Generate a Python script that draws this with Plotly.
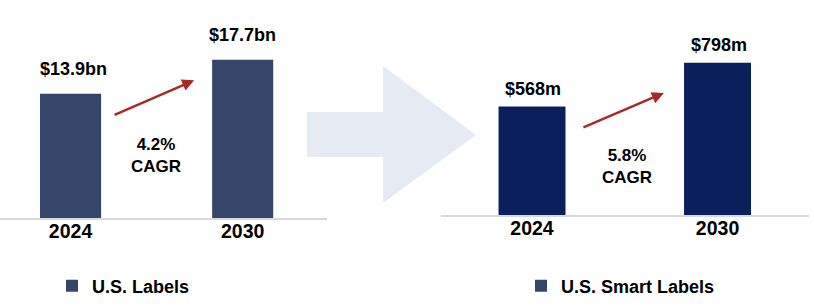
import plotly.graph_objects as go

# ---- data ----
years = ["2024", "2030"]
labels_values = [13.9, 17.7]          # U.S. Labels, $bn
smart_values = [568, 798]             # U.S. Smart Labels, $m
labels_text = ["&#36;13.9bn", "&#36;17.7bn"]
smart_text = ["&#36;568m", "&#36;798m"]
labels_cagr = "4.2%"
smart_cagr = "5.8%"
cagr_word = "CAGR"
series_names = ["U.S. Labels", "U.S. Smart Labels"]

W, H = 814, 307
FONT = "Liberation Sans"
SLATE = "#36466B"
NAVY = "#0B1F5C"
RED = "#A82828"

def px(x):
    return x / W

def py(y):
    return 1 - y / H

fig = go.Figure()

fig.add_trace(go.Bar(x=years, y=labels_values, name=series_names[0],
                     marker=dict(color=SLATE, line=dict(width=0)),
                     width=0.355, xaxis="x", yaxis="y", legend="legend",
                     hoverinfo="skip"))
fig.add_trace(go.Bar(x=years, y=smart_values, name=series_names[1],
                     marker=dict(color=NAVY, line=dict(width=0)),
                     width=0.361, xaxis="x2", yaxis="y2", showlegend=False,
                     hoverinfo="skip"))
fig.add_trace(go.Bar(x=[None], y=[None], name=series_names[1],
                     marker=dict(color=SLATE, line=dict(width=0)),
                     xaxis="x2", yaxis="y2", legend="legend2",
                     hoverinfo="skip"))

bold = dict(family=FONT, color="#000", weight="bold")
annotations = []
for i, (v, t) in enumerate(zip(labels_values, labels_text)):
    annotations.append(dict(x=i, y=v, xref="x", yref="y", text=t,
                            showarrow=False, yanchor="middle", yshift=25,
                            xshift=3 if i == 0 else 0,
                            font=dict(size=18, **bold)))
for i, (v, t) in enumerate(zip(smart_values, smart_text)):
    annotations.append(dict(x=i, y=v, xref="x2", yref="y2", text=t,
                            showarrow=False, yanchor="middle", yshift=18,
                            xshift=1,
                            font=dict(size=18, **bold)))
# CAGR texts
annotations.append(dict(x=0.497, y=6.97, xref="x", yref="y",
                        text=labels_cagr + "<br>" + cagr_word,
                        showarrow=False, font=dict(size=17, **bold)))
annotations.append(dict(x=0.512, y=254, xref="x2", yref="y2",
                        text=smart_cagr + "<br>" + cagr_word,
                        showarrow=False, font=dict(size=17, **bold)))
# growth arrows
annotations.append(dict(x=0.718, y=15.41, ax=0.247, ay=11.47, xref="x", yref="y",
                        axref="x", ayref="y", text="", showarrow=True,
                        arrowhead=2, arrowsize=1, arrowwidth=2.4, arrowcolor=RED))
annotations.append(dict(x=0.711, y=639, ax=0.269, ay=455, xref="x2", yref="y2",
                        axref="x2", ayref="y2", text="", showarrow=True,
                        arrowhead=2, arrowsize=1, arrowwidth=2.4, arrowcolor=RED))

pts = [(307, 112), (383, 112), (383, 66), (476, 135), (383, 203), (383, 157), (307, 157)]
path = "M " + " L ".join(f"{px(x):.5f},{py(y):.5f}" for x, y in pts) + " Z"
shapes = [dict(type="path", path=path, xref="paper", yref="paper",
               fillcolor="#E6EBF3", line=dict(width=0), layer="below")]

tickfont = dict(size=19.5, **bold)
axis_common = dict(type="category", showgrid=False, zeroline=False, ticks="",
                   showline=True, linecolor="#D9D9D9", linewidth=2,
                   tickfont=tickfont, fixedrange=True, ticklabelstandoff=-5)

fig.update_layout(
    width=W, height=H,
    margin=dict(l=0, r=0, t=0, b=0),
    paper_bgcolor="white", plot_bgcolor="rgba(0,0,0,0)",
    barmode="overlay",
    xaxis=dict(domain=[0, px(327)], range=[-0.41, 1.49], anchor="y", **axis_common),
    yaxis=dict(domain=[py(218), 1], range=[0, 24.4], visible=False, fixedrange=True),
    xaxis2=dict(domain=[px(441), px(809)], range=[-0.4906, 1.493], anchor="y2", **axis_common),
    yaxis2=dict(domain=[py(215), 1], range=[0, 1126], visible=False, fixedrange=True),
    legend=dict(x=px(52), y=py(286), xanchor="left", yanchor="middle",
                font=dict(size=18, **bold), bgcolor="rgba(0,0,0,0)"),
    legend2=dict(x=px(521), y=py(286), xanchor="left", yanchor="middle",
                 font=dict(size=18, **bold), bgcolor="rgba(0,0,0,0)"),
    annotations=annotations,
    shapes=shapes,
    showlegend=True,
)

fig.write_html("out.html")
